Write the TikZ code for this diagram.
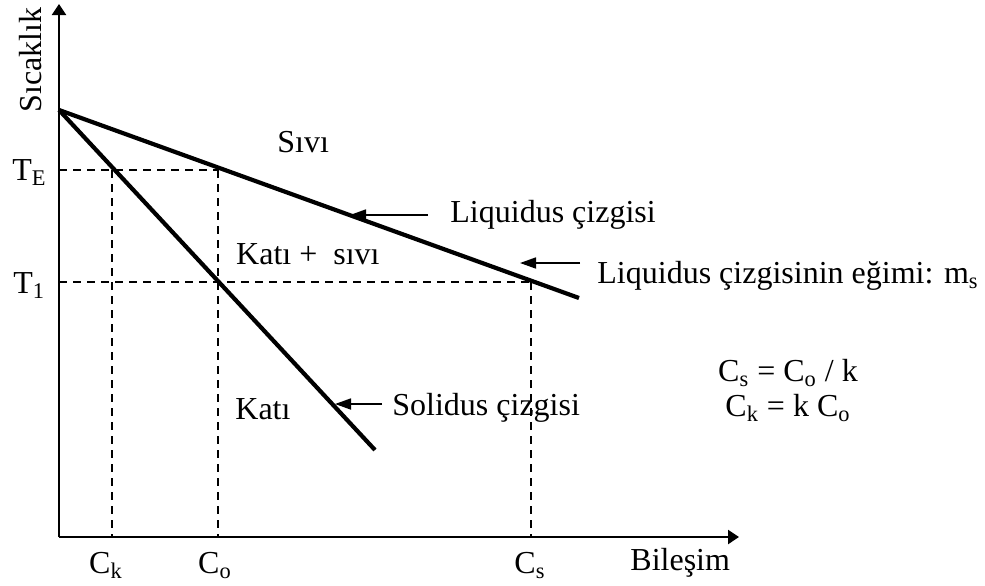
\documentclass[tikz,border=0pt]{standalone}
\usepackage{fontspec}
\setmainfont{Liberation Serif}
\usetikzlibrary{arrows.meta}

\begin{document}
\begin{tikzpicture}[
    x=0.5pt, y=-0.5pt,
    every node/.style={font=\fontsize{16}{19}\selectfont, inner sep=0pt},
    axis/.style={line width=1.2pt, -{Triangle[length=5.5pt,width=7pt]}},
    curve/.style={line width=2.1pt},
    guide/.style={line width=0.9pt, dash pattern=on 4.2pt off 2.8pt},
    ptr/.style={line width=0.85pt, -{Triangle[length=8pt,width=5.5pt]}}
]
    \useasboundingbox (0,0) rectangle (985,585);
    % axis points
    \coordinate (o)    at (59,537);
    \coordinate (ytip) at (59,4);
    \coordinate (xtip) at (739,537);
    % phase lines
    \coordinate (top)    at (59,110);
    \coordinate (liqend) at (579,298);
    \coordinate (solend) at (375,450);
    % guide points
    \coordinate (te0) at (59,170);
    \coordinate (te1) at (218,170);
    \coordinate (t10) at (59,282);
    \coordinate (t11) at (531,282);
    \coordinate (ck0) at (112,170);
    \coordinate (ck1) at (112,537);
    \coordinate (co1) at (218,537);
    \coordinate (cs1) at (531,537);
    % pointer ends
    \coordinate (liqa) at (428,215);
    \coordinate (liqb) at (350,215);
    \coordinate (slpa) at (580,263);
    \coordinate (slpb) at (520,263);
    \coordinate (sola) at (382,404);
    \coordinate (solb) at (335,404);

    % guides
    \draw[guide] (te0) -- (te1);
    \draw[guide] (t10) -- (t11);
    \draw[guide] (ck0) -- (ck1);
    \draw[guide] (te1) -- (co1);
    \draw[guide] (t11) -- (cs1);
    % axes
    \draw[axis] (o) -- (ytip);
    \draw[axis] (o) -- (xtip);
    % liquidus and solidus
    \draw[curve] (top) -- (liqend);
    \draw[curve] (top) -- (solend);
    % pointers
    \draw[ptr] (liqa) -- (liqb);
    \draw[ptr] (slpa) -- (slpb);
    \draw[ptr] (sola) -- (solb);

    % axis labels
    \node[rotate=90] (ylab) at (31,60) {Sıcaklık};
    \node[anchor=base west] (xlab) at (630,570) {Bileşim};
    \node[anchor=base west] (te) at (12,180) {T\textsubscript{E}};
    \node[anchor=base west] (t1) at (13,293) {T\textsubscript{1}};
    \node[anchor=base] (ck) at (106,573) {C\textsubscript{k}};
    \node[anchor=base] (co) at (215,573) {C\textsubscript{o}};
    \node[anchor=base] (cs) at (530,573) {C\textsubscript{s}};
    % region labels
    \node[anchor=base west] (sivi) at (277,152) {Sıvı};
    \node[anchor=base east] (mix) at (380,264) {Katı +\ \ sıvı};
    \node[anchor=base west] (kati) at (235,419) {Katı};
    % line labels
    \node[anchor=base west] (liqlab) at (450,222) {Liquidus çizgisi};
    \node[anchor=base west] (slplab) at (597,283) {Liquidus çizgisinin eğimi: m\textsubscript{s}};
    \node[anchor=base west] (sollab) at (392,415) {Solidus çizgisi};
    % relations
    \node[anchor=base] (csrel) at (788,381) {C\textsubscript{s} = C\textsubscript{o} / k};
    \node[anchor=base] (ckrel) at (788,416) {C\textsubscript{k} = k C\textsubscript{o}};
\end{tikzpicture}
\end{document}
